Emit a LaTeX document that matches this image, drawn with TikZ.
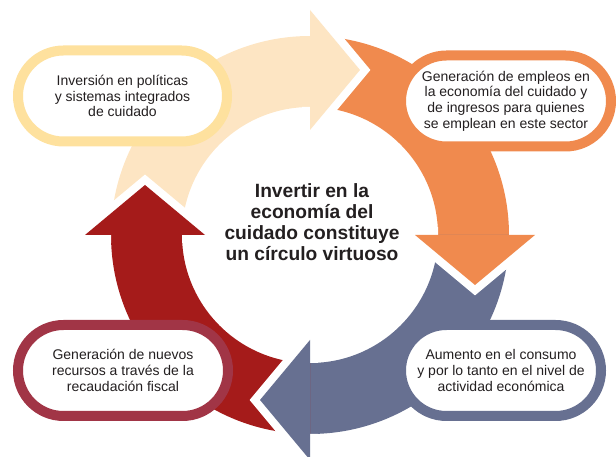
\documentclass[tikz,border=0pt]{standalone}
\usepackage{fontspec}
\setmainfont{Liberation Sans}
\usetikzlibrary{calc}

\definecolor{beigeband}{HTML}{FDE5C3}
\definecolor{beigeline}{HTML}{FEE19E}
\definecolor{orangeband}{HTML}{F08A4E}
\definecolor{slateband}{HTML}{677091}
\definecolor{redband}{HTML}{A51B1A}
\definecolor{redline}{HTML}{A13546}
\definecolor{ink}{HTML}{231F20}

\begin{document}
\begin{tikzpicture}[
  x=1pt, y=1pt,
  gap/.style={white, line width=16pt, line join=miter},
  stage/.style={draw, fill=white, line width=10pt, rounded corners=45.5pt,
    minimum height=91pt, align=center, text=ink,
    font=\fontsize{14}{15.7}\selectfont},
  hub/.style={align=center, text=ink, font=\fontsize{19.2}{21}\selectfont\bfseries}
]
  \clip (0,0) rectangle (616,457);
  \coordinate (c) at (310,222);

  % --- ring segments (clockwise, each one quarter) ----------------------
  \fill[beigeband] ($(c)+(180:199)$) arc[start angle=180, end angle=90, radius=199]
    -- ($(c)+(90:128)$) arc[start angle=90, end angle=180, radius=128] -- cycle;
  \fill[orangeband] ($(c)+(90:199)$) arc[start angle=90, end angle=0, radius=199]
    -- ($(c)+(0:128)$) arc[start angle=0, end angle=90, radius=128] -- cycle;
  \fill[slateband] ($(c)+(0:199)$) arc[start angle=0, end angle=-90, radius=199]
    -- ($(c)+(-90:128)$) arc[start angle=-90, end angle=0, radius=128] -- cycle;
  \fill[redband] ($(c)+(-90:199)$) arc[start angle=-90, end angle=-180, radius=199]
    -- ($(c)+(180:128)$) arc[start angle=180, end angle=270, radius=128] -- cycle;

  % --- arrow heads, cut out of the next segment by a white edge ---------
  \draw[gap] ($(c)+(90:128)$) -- ($(c)+(90:105)$) -- ($(c)+(90:165)+(0:50)$)
    -- ($(c)+(90:225)$) -- ($(c)+(90:199)$);
  \fill[beigeband] ($(c)+(90:105)$) -- ($(c)+(90:165)+(0:50)$) -- ($(c)+(90:225)$) -- cycle;

  \draw[gap] ($(c)+(0:128)$) -- ($(c)+(0:105)$) -- ($(c)+(0:165)+(-90:50)$)
    -- ($(c)+(0:225)$) -- ($(c)+(0:199)$);
  \fill[orangeband] ($(c)+(0:105)$) -- ($(c)+(0:165)+(-90:50)$) -- ($(c)+(0:225)$) -- cycle;

  \draw[gap] ($(c)+(-90:128)$) -- ($(c)+(-90:105)$) -- ($(c)+(-90:165)+(180:50)$)
    -- ($(c)+(-90:225)$) -- ($(c)+(-90:199)$);
  \fill[slateband] ($(c)+(-90:105)$) -- ($(c)+(-90:165)+(180:50)$) -- ($(c)+(-90:225)$) -- cycle;

  \draw[gap] ($(c)+(180:128)$) -- ($(c)+(180:105)$) -- ($(c)+(180:165)+(90:50)$)
    -- ($(c)+(180:225)$) -- ($(c)+(180:199)$);
  \fill[redband] ($(c)+(180:105)$) -- ($(c)+(180:165)+(90:50)$) -- ($(c)+(180:225)$) -- cycle;

  % --- the four stages --------------------------------------------------
  \node[stage, draw=beigeline, minimum width=209pt] (invest) at (122.5,361)
    {Inversión en políticas\\y sistemas integrados\\de cuidado};
  \node[stage, draw=orangeband, minimum width=210pt] (jobs) at (506,356)
    {Generación de empleos en\\la economía del cuidado y\\de ingresos para quienes\\se emplean en este sector};
  \node[stage, draw=slateband, minimum width=200pt] (demand) at (501,86.5)
    {Aumento en el consumo\\y por lo tanto en el nivel de\\actividad económica};
  \node[stage, draw=redline, minimum width=210pt] (revenue) at (123,86.5)
    {Generación de nuevos\\recursos a través de la\\recaudación fiscal};

  % --- centre -----------------------------------------------------------
  \node[hub] (core) at (312,235)
    {Invertir en la\\economía del\\cuidado constituye\\un círculo virtuoso};
\end{tikzpicture}
\end{document}
